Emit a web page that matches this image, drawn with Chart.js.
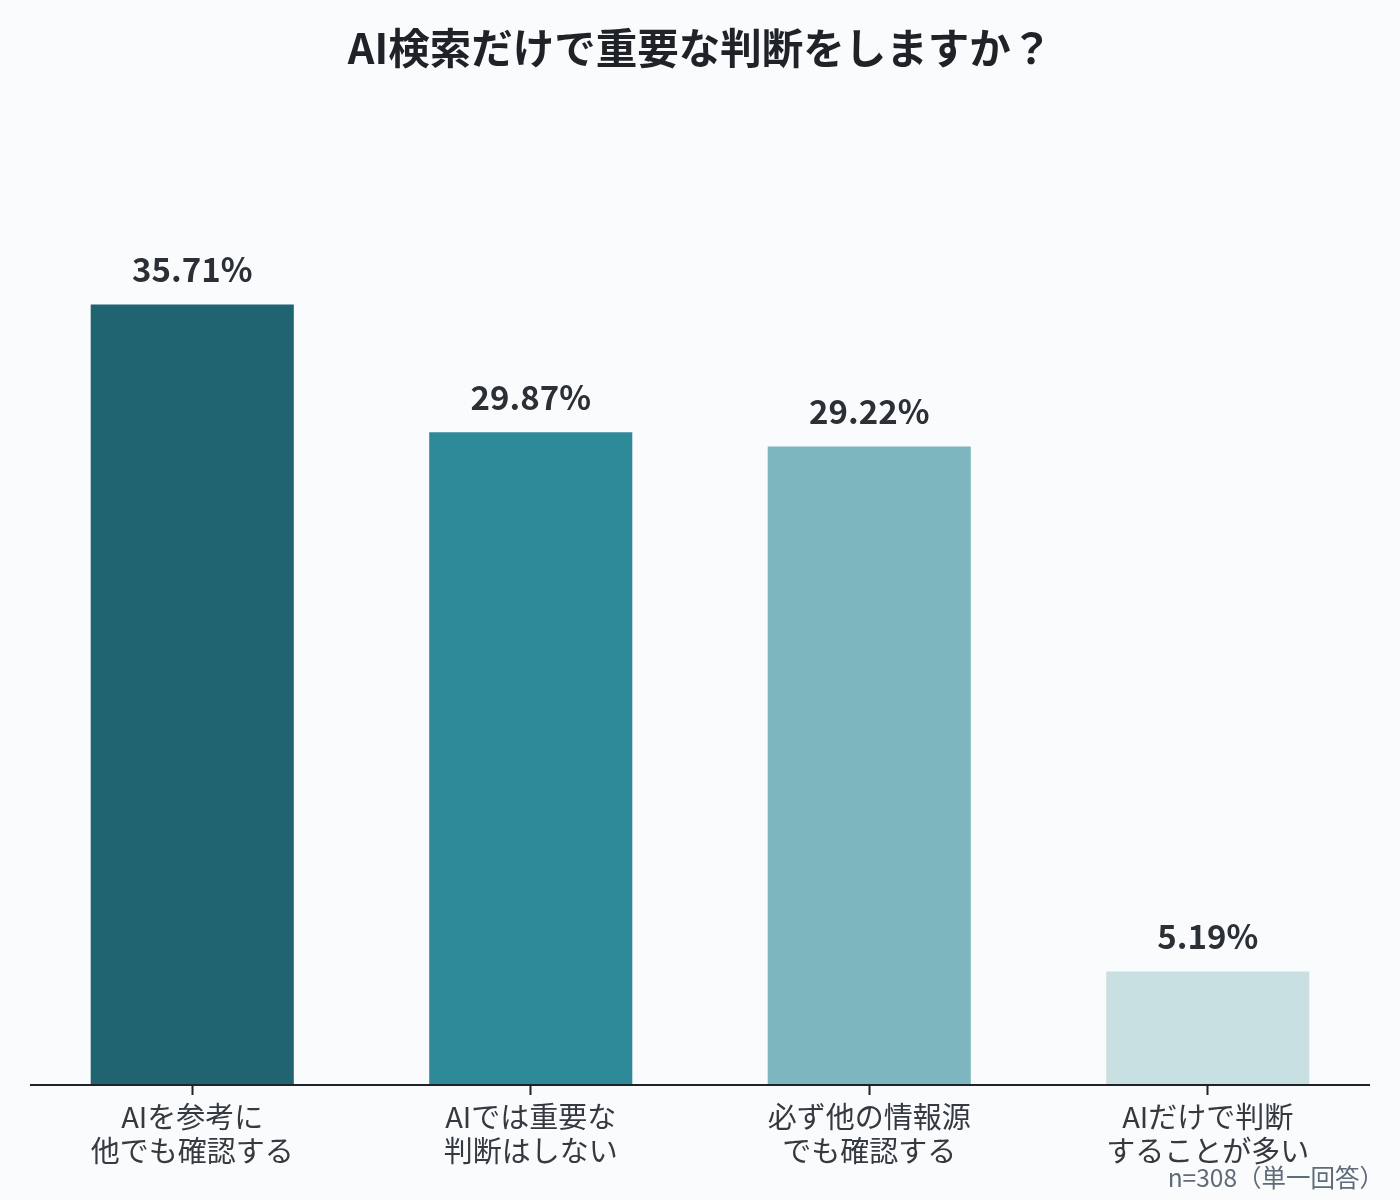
<!DOCTYPE html>
<html>
<head>
<meta charset="utf-8">
<script src="https://cdn.jsdelivr.net/npm/chart.js@4/dist/chart.umd.min.js"></script>
<style>
  html, body { margin: 0; padding: 0; background: #f9fbfc; }
  #wrap { width: 1400px; height: 1200px; }
</style>
</head>
<body>
<div id="wrap"><canvas id="c" width="1400" height="1200"></canvas></div>
<script>
const categories = [
  ["AIを参考に", "他でも確認する"],
  ["AIでは重要な", "判断はしない"],
  ["必ず他の情報源", "でも確認する"],
  ["AIだけで判断", "することが多い"]
];
const values = [35.71, 29.87, 29.22, 5.19];
const barColors = ["#1f6470", "#2e8a99", "#7db6bf", "#c9e0e2"];
const titleText = "AI検索だけで重要な判断をしますか？";
const noteText = "n=308（単一回答）";

const FONT = "'Noto Sans CJK JP', 'Noto Sans', sans-serif";

const bgPlugin = {
  id: 'bg',
  beforeDraw(chart) {
    const ctx = chart.ctx;
    ctx.save();
    ctx.fillStyle = '#f9fbfc';
    ctx.fillRect(0, 0, chart.width, chart.height);
    ctx.restore();
  }
};

const overlayPlugin = {
  id: 'overlay',
  afterDatasetsDraw(chart) {
    const ctx = chart.ctx;
    const meta = chart.getDatasetMeta(0);
    ctx.save();
    ctx.font = "bold 33px " + FONT;
    ctx.fillStyle = '#2a3035';
    ctx.textAlign = 'center';
    ctx.textBaseline = 'middle';
    meta.data.forEach((bar, i) => {
      ctx.fillText(values[i].toFixed(2) + '%', bar.x, bar.y - 35);
    });
    // axis line
    const x = chart.scales.x;
    const y0 = chart.scales.y.getPixelForValue(0);
    ctx.strokeStyle = '#1f2328';
    ctx.lineWidth = 2;
    ctx.beginPath();
    ctx.moveTo(x.left + 7, y0);
    ctx.lineTo(x.right - 7, y0);
    ctx.stroke();
    // note
    ctx.font = "24.5px " + FONT;
    ctx.fillStyle = '#5f6b78';
    ctx.textAlign = 'right';
    ctx.fillText(noteText, 1384, 1178);
    ctx.restore();
  }
};

new Chart(document.getElementById('c'), {
  type: 'bar',
  data: {
    labels: categories,
    datasets: [{
      data: values,
      backgroundColor: barColors,
      borderWidth: 0,
      categoryPercentage: 1.0,
      barPercentage: 0.6
    }]
  },
  options: {
    responsive: false,
    animation: false,
    devicePixelRatio: 1,
    layout: { padding: { left: 23, right: 23, top: 0, bottom: 27 } },
    plugins: {
      legend: { display: false },
      tooltip: { enabled: false },
      title: {
        display: true,
        text: titleText,
        color: '#1f2328',
        font: { family: FONT, size: 41.5, weight: 'bold', lineHeight: 1.2 },
        padding: { top: 23, bottom: 138 }
      }
    },
    scales: {
      x: {
        border: { display: false },
        grid: {
          display: true,
          drawOnChartArea: false,
          drawTicks: true,
          tickLength: 10,
          tickWidth: 2,
          tickColor: '#1f2328',
          offset: false
        },
        ticks: {
          color: '#343a40',
          font: { family: FONT, size: 29, lineHeight: 34 / 29 },
          padding: 5,
          maxRotation: 0,
          autoSkip: false
        }
      },
      y: {
        display: false,
        min: 0,
        max: 40
      }
    }
  },
  plugins: [bgPlugin, overlayPlugin]
});
</script>
</body>
</html>
